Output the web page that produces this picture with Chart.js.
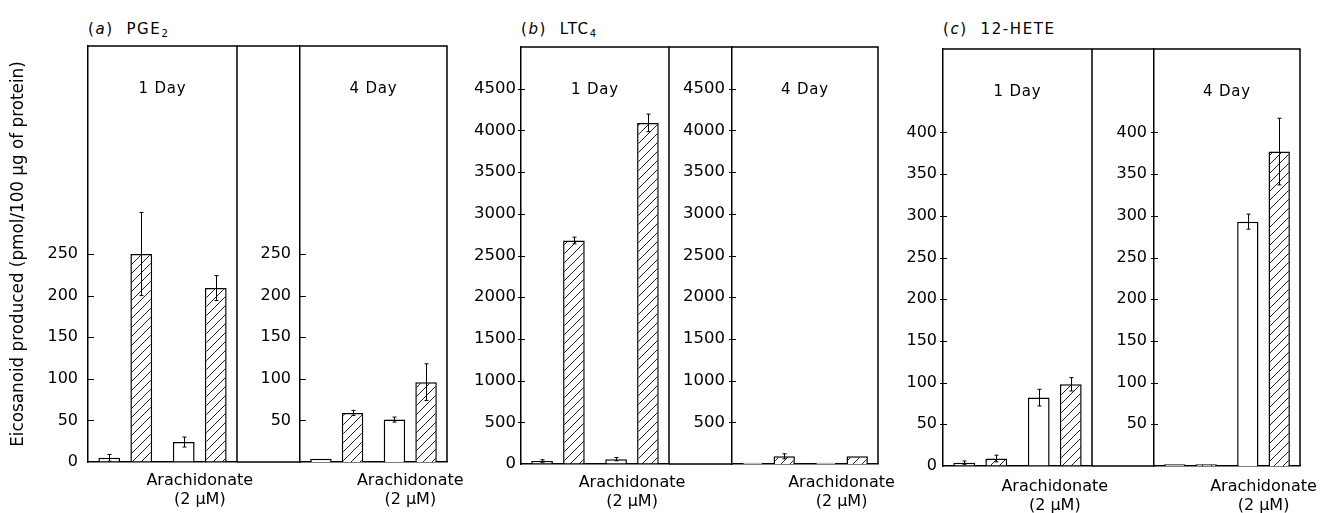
<!DOCTYPE html>
<html><head><meta charset="utf-8">
<script src="https://cdn.jsdelivr.net/npm/chart.js@4.4.0/dist/chart.umd.min.js"></script>
<style>
html,body{margin:0;padding:0;background:#fff;}
body{width:1321px;height:513px;position:relative;overflow:hidden;font-family:'DejaVu Sans',sans-serif;color:#000;}
.cv{position:absolute;top:0;height:513px;}
.ttl{position:absolute;top:21px;font-size:15px;line-height:16px;letter-spacing:1.6px;white-space:nowrap;}
.ttl sub{font-size:10px;vertical-align:-3px;line-height:0;letter-spacing:0;}
</style></head><body>
<div class="ttl" id="t_a">(<i>a</i>)&nbsp;&nbsp;PGE<sub>2</sub></div>
<div class="ttl" id="t_b">(<i>b</i>)&nbsp;&nbsp;LTC<sub>4</sub></div>
<div class="ttl" id="t_c">(<i>c</i>)&nbsp;&nbsp;12-HETE</div>
<script>
// ---------------- DATA ----------------
const categories = ['', ['Arachidonate', '(2 μM)']];
const seriesNames = ['Open', 'Hatched'];
const dayLabels = ['1 Day', '4 Day'];
const yAxisTitle = 'Eicosanoid produced (pmol/100 μg of protein)';

// (a) PGE2
const pge2Day1Open = [5, 24];
const pge2Day1OpenErr = [4, 6];
const pge2Day1Hatched = [250, 209];
const pge2Day1HatchedErr = [50, 15];
const pge2Day4Open = [4, 51];
const pge2Day4OpenErr = [0, 3];
const pge2Day4Hatched = [59, 96];
const pge2Day4HatchedErr = [3, 22];
const pge2Max = 500;
const pge2Step = 50;
const pge2Day1Ticks = [0, 50, 100, 150, 200, 250];
const pge2Day4Ticks = [50, 100, 150, 200, 250];

// (b) LTC4
const ltc4Day1Open = [36, 58];
const ltc4Day1OpenErr = [15, 20];
const ltc4Day1Hatched = [2680, 4090];
const ltc4Day1HatchedErr = [40, 105];
const ltc4Day4Open = [16, 16];
const ltc4Day4OpenErr = [0, 0];
const ltc4Day4Hatched = [92, 92];
const ltc4Day4HatchedErr = [30, 0];
const ltc4Max = 5000;
const ltc4Step = 500;
const ltc4Day1Ticks = [0, 500, 1000, 1500, 2000, 2500, 3000, 3500, 4000, 4500];
const ltc4Day4Ticks = [500, 1000, 1500, 2000, 2500, 3000, 3500, 4000, 4500];

// (c) 12-HETE
const heteDay1Open = [4, 82];
const heteDay1OpenErr = [2, 10];
const heteDay1Hatched = [9, 98];
const heteDay1HatchedErr = [4, 8];
const heteDay4Open = [2, 293];
const heteDay4OpenErr = [0, 9];
const heteDay4Hatched = [2, 377];
const heteDay4HatchedErr = [0, 40];
const heteMax = 500;
const heteStep = 50;
const heteDay1Ticks = [0, 50, 100, 150, 200, 250, 300, 350, 400];
const heteDay4Ticks = [50, 100, 150, 200, 250, 300, 350, 400];

// ---------------- LAYOUT (page pixels) ----------------
const PAGE_H = 513;
const RP = 40; // right padding in each canvas (room for overflowing x labels)
const panels = [
  {id:'a', top:46, bottom:462, left:88,  divider:237,  axis2:300,  right:447,
   tickPad1:10, tickPad2:9, tickOut:0, tickIn:6, fs:16,   xPad:9},
  {id:'b', top:47, bottom:464, left:521, divider:669,  axis2:732,  right:878,
   tickPad1:5, tickPad2:7, tickOut:3, tickIn:4, fs:16.5, xPad:9},
  {id:'c', top:49, bottom:466, left:943, divider:1092, axis2:1154, right:1300,
   tickPad1:6, tickPad2:7, tickOut:3, tickIn:4, fs:16,   xPad:11}
];

const INK = '#000';
Chart.defaults.font.family = "'DejaVu Sans', sans-serif";
Chart.defaults.font.size = 16;
Chart.defaults.color = INK;

function makeHatch() {
  const s = 9;
  const c = document.createElement('canvas');
  c.width = s; c.height = s;
  const g = c.getContext('2d');
  g.fillStyle = '#fff'; g.fillRect(0, 0, s, s);
  g.strokeStyle = '#222'; g.lineWidth = 1;
  g.beginPath();
  g.moveTo(0, s); g.lineTo(s, 0);
  g.moveTo(-2, 2); g.lineTo(2, -2);
  g.moveTo(s - 2, s + 2); g.lineTo(s + 2, s - 2);
  g.stroke();
  return g.createPattern(c, 'repeat');
}
const hatch = makeHatch();

const framePlugin = {
  id: 'frame',
  afterDraw(chart, args, opts) {
    const {ctx, chartArea} = chart;
    const {left, right, top, bottom} = chartArea;
    const ys = chart.scales.y;
    ctx.save();
    ctx.strokeStyle = INK; ctx.lineWidth = 1.5;
    ctx.beginPath();
    const x0 = opts.extendLeft ? 0 : left;
    ctx.moveTo(x0, top); ctx.lineTo(right, top); ctx.lineTo(right, bottom);
    if (opts.extendLeft) { ctx.moveTo(0, bottom); ctx.lineTo(left, bottom); }
    ctx.stroke();
    // tick marks at labelled values
    ctx.lineWidth = 1.2;
    ctx.beginPath();
    ys.ticks.forEach(t => {
      if (t.label === null || t.label === undefined || t.label === '' || t.value === 0) return;
      const py = Math.round(ys.getPixelForValue(t.value)) + 0.5;
      ctx.moveTo(left - opts.tickOut, py); ctx.lineTo(left + opts.tickIn, py);
    });
    ctx.stroke();
    ctx.fillStyle = INK;
    ctx.font = "15px 'DejaVu Sans'";
    if ('letterSpacing' in ctx) ctx.letterSpacing = '0.8px';
    ctx.textAlign = 'center'; ctx.textBaseline = 'alphabetic';
    ctx.fillText(opts.label, (left + right) / 2, top + 47);
    ctx.restore();
  }
};

const errorPlugin = {
  id: 'errbars',
  afterDatasetsDraw(chart) {
    const {ctx} = chart;
    const ys = chart.scales.y;
    ctx.save();
    ctx.strokeStyle = INK; ctx.lineWidth = 1;
    chart.data.datasets.forEach((ds, i) => {
      const meta = chart.getDatasetMeta(i);
      meta.data.forEach((bar, j) => {
        const e = ds.errors[j];
        if (!e) return;
        const v = ds.data[j];
        const yt = ys.getPixelForValue(v + e);
        const yb = ys.getPixelForValue(Math.max(0, v - e));
        const x = Math.round(bar.x) + 0.5;
        ctx.beginPath();
        ctx.moveTo(x, yt); ctx.lineTo(x, yb);
        ctx.moveTo(x - 2, yt); ctx.lineTo(x + 2, yt);
        ctx.moveTo(x - 2, yb); ctx.lineTo(x + 2, yb);
        ctx.stroke();
      });
    });
    ctx.restore();
  }
};

function zeroPad(s) { s.paddingLeft = 0; s.paddingRight = 0; s.paddingTop = 0; s.paddingBottom = 0; }

function makeChart(o) {
  const div = document.createElement('div');
  div.className = 'cv';
  div.style.left = (o.axisX - o.W) + 'px';
  div.style.width = (o.W + o.plotW + RP) + 'px';
  const canvas = document.createElement('canvas');
  div.appendChild(canvas);
  document.body.appendChild(div);
  const XH = PAGE_H - o.bottom;
  new Chart(canvas, {
    type: 'bar',
    data: {
      labels: categories,
      datasets: [
        {label: seriesNames[0], data: o.open, errors: o.openErr, backgroundColor: '#fff',
         borderColor: INK, borderWidth: 1.5},
        {label: seriesNames[1], data: o.hatched, errors: o.hatchedErr, backgroundColor: hatch,
         borderColor: INK, borderWidth: 1.5}
      ]
    },
    options: {
      responsive: true, maintainAspectRatio: false, animation: false,
      devicePixelRatio: 1,
      categoryPercentage: 0.86, barPercentage: 0.68,
      layout: {autoPadding: false, padding: {top: o.top, left: 0, right: RP, bottom: 0}},
      plugins: {
        legend: {display: false}, tooltip: {enabled: false},
        frame: {extendLeft: o.extendLeft, label: o.label, tickIn: o.tickIn, tickOut: o.tickOut}
      },
      scales: {
        x: {
          type: 'category', offset: true,
          grid: {display: false, drawTicks: false},
          border: {display: true, color: INK, width: 1.5},
          ticks: {padding: o.xPad, maxRotation: 0, minRotation: 0, autoSkip: false, color: INK,
                  font: {size: 16, lineHeight: 1.2}},
          afterFit: s => { s.height = XH; zeroPad(s); }
        },
        y: {
          min: 0, max: o.max,
          ticks: {stepSize: o.step, autoSkip: false, padding: o.tickPad, color: INK,
                  font: {size: o.fs},
                  callback: v => o.ticks.includes(v) ? String(v) : null},
          grid: {display: true, drawOnChartArea: false, drawTicks: false, color: 'rgba(0,0,0,0)'},
          border: {display: true, color: INK, width: 1.5},
          title: {display: !!o.yTitle, text: o.yTitle || '', color: INK,
                  font: {size: 16.8}, padding: {top: 9, bottom: 0}},
          afterFit: s => { s.width = o.W; zeroPad(s); }
        }
      }
    },
    plugins: [framePlugin, errorPlugin]
  });
}

const panelData = {
  a: {d1: [pge2Day1Open, pge2Day1OpenErr, pge2Day1Hatched, pge2Day1HatchedErr, pge2Day1Ticks],
      d4: [pge2Day4Open, pge2Day4OpenErr, pge2Day4Hatched, pge2Day4HatchedErr, pge2Day4Ticks],
      max: pge2Max, step: pge2Step},
  b: {d1: [ltc4Day1Open, ltc4Day1OpenErr, ltc4Day1Hatched, ltc4Day1HatchedErr, ltc4Day1Ticks],
      d4: [ltc4Day4Open, ltc4Day4OpenErr, ltc4Day4Hatched, ltc4Day4HatchedErr, ltc4Day4Ticks],
      max: ltc4Max, step: ltc4Step},
  c: {d1: [heteDay1Open, heteDay1OpenErr, heteDay1Hatched, heteDay1HatchedErr, heteDay1Ticks],
      d4: [heteDay4Open, heteDay4OpenErr, heteDay4Hatched, heteDay4HatchedErr, heteDay4Ticks],
      max: heteMax, step: heteStep}
};

let prevRight = 0;
panels.forEach((p, idx) => {
  const pd = panelData[p.id];
  const W1 = idx === 0 ? p.left : p.left - prevRight - 2;
  makeChart({axisX: p.left, W: W1, plotW: p.divider - p.left, top: p.top, bottom: p.bottom,
    open: pd.d1[0], openErr: pd.d1[1], hatched: pd.d1[2], hatchedErr: pd.d1[3], ticks: pd.d1[4],
    max: pd.max, step: pd.step, tickPad: p.tickPad1, fs: p.fs, label: dayLabels[0], xPad: p.xPad,
    tickIn: p.tickIn, tickOut: p.tickOut,
    extendLeft: false, yTitle: idx === 0 ? yAxisTitle : null});
  makeChart({axisX: p.axis2, W: p.axis2 - p.divider, plotW: p.right - p.axis2, top: p.top, bottom: p.bottom,
    open: pd.d4[0], openErr: pd.d4[1], hatched: pd.d4[2], hatchedErr: pd.d4[3], ticks: pd.d4[4],
    max: pd.max, step: pd.step, tickPad: p.tickPad2, fs: p.fs, label: dayLabels[1], xPad: p.xPad,
    tickIn: p.tickIn, tickOut: p.tickOut,
    extendLeft: true, yTitle: null});
  const t = document.getElementById('t_' + p.id);
  t.style.left = p.left + 'px';
  prevRight = p.right;
});
</script>
</body></html>
